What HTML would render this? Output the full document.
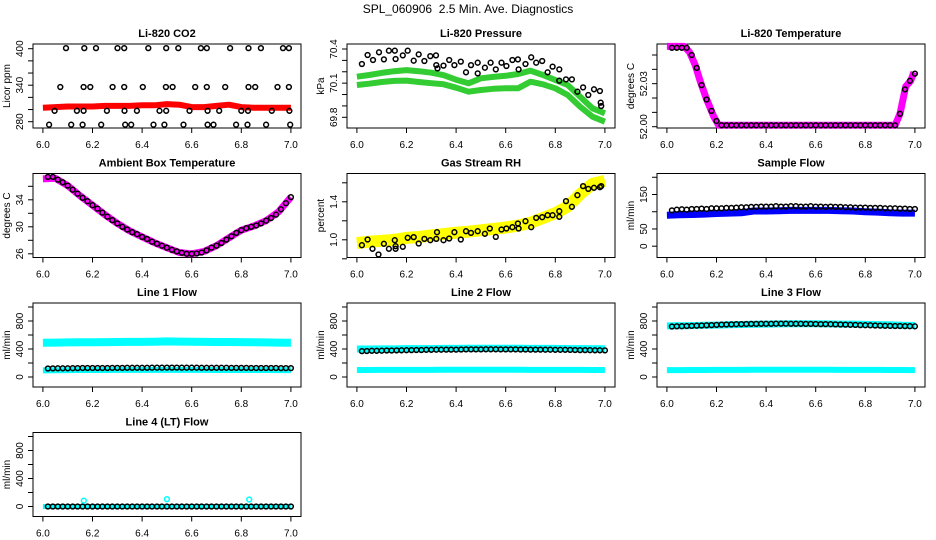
<!DOCTYPE html>
<html><head><meta charset="utf-8"><title>SPL_060906 Diagnostics</title>
<style>
html,body{margin:0;padding:0;background:#fff;}
svg{display:block;font-family:"Liberation Sans",Arial,sans-serif;}
</style></head>
<body>
<svg id="fig" width="936" height="540" viewBox="0 0 936 540">
<rect x="0" y="0" width="936" height="540" fill="#fff"/>
<text x="468" y="13" text-anchor="middle" font-size="12" xml:space="preserve">SPL_060906  2.5 Min. Ave. Diagnostics</text>
</svg>
<script>
// ---- shared time arrays ----
const BT = [6.00,6.05,6.10,6.15,6.20,6.25,6.30,6.35,6.40,6.45,6.50,6.55,6.60,6.65,6.70,6.75,6.80,6.85,6.90,6.95,7.00];
const T = [6.02,6.04,6.06,6.08,6.10,6.12,6.14,6.16,6.18,6.20,6.22,6.24,6.26,6.28,6.30,6.32,6.34,6.36,6.38,6.40,6.42,6.44,6.46,6.48,6.50,6.52,6.54,6.56,6.58,6.60,6.62,6.64,6.66,6.68,6.70,6.72,6.74,6.76,6.78,6.80,6.82,6.84,6.86,6.88,6.90,6.92,6.94,6.96,6.98,7.00];
const xTicks = [6.0,6.2,6.4,6.6,6.8,7.0];
const xTickLabels = ["6.0","6.2","6.4","6.6","6.8","7.0"];

// ---- CO2 ----
const co2Band = [303,304,305,305,305,306,306,306,307,307,309,308,304,304,306,308,304,303,303,303,303];
const co2CircT = [6.093,6.167,6.214,6.301,6.328,6.425,6.497,6.546,6.637,6.661,6.755,6.829,6.879,6.968,6.992,
  6.07,6.164,6.191,6.281,6.328,6.403,6.496,6.523,6.614,6.661,6.735,6.829,6.856,6.946,6.992,
  6.047,6.137,6.164,6.258,6.329,6.379,6.47,6.497,6.591,6.664,6.711,6.8,6.827,6.923,6.994,
  6.025,6.114,6.16,6.235,6.332,6.356,6.446,6.49,6.567,6.664,6.688,6.779,6.825,6.9,6.997];
const co2CircV = [401,401,401,401,401,401,401,401,401,401,401,401,401,401,401,
  337,337,337,337,337,337,337,337,337,337,337,337,337,337,337,
  298,298,298,298,298,298,298,298,298,298,298,298,298,298,298,
  275,275,275,275,275,275,275,275,275,275,275,275,275,275,275];
const co2Ticks = [280,300,320,340,360,380,400];
const co2Labels = [280,340,400];

// ---- Pressure ----
const presUpper = [70.157,70.172,70.19,70.205,70.215,70.205,70.192,70.17,70.13,70.099,70.143,70.155,70.165,70.18,70.209,70.172,70.128,70.084,69.981,69.879,69.835];
const presLower = [70.084,70.095,70.11,70.12,70.122,70.11,70.10,70.09,70.06,70.025,70.04,70.05,70.055,70.055,70.113,70.09,70.055,69.996,69.893,69.805,69.761];
const presCircT = [6.020,6.043,6.065,6.089,6.109,6.129,6.153,6.156,6.185,6.205,6.229,6.249,6.272,6.296,6.319,6.320,6.325,6.349,6.372,6.393,6.419,6.440,6.460,6.487,6.487,6.516,6.539,6.560,6.583,6.603,6.627,6.649,6.652,6.680,6.703,6.723,6.747,6.769,6.789,6.816,6.816,6.843,6.867,6.889,6.912,6.933,6.956,6.980,6.983,6.985];
const presCircV = [70.268,70.347,70.303,70.371,70.309,70.385,70.385,70.312,70.344,70.385,70.297,70.353,70.295,70.338,70.344,70.259,70.230,70.254,70.303,70.259,70.289,70.195,70.259,70.280,70.186,70.236,70.280,70.221,70.280,70.251,70.303,70.309,70.221,70.268,70.327,70.280,70.295,70.195,70.245,70.221,70.122,70.133,70.133,70.025,70.063,69.996,70.046,70.031,69.928,69.899];
const presTicks = [69.8,69.9,70.0,70.1,70.2,70.3,70.4];
const presLabels = [69.8,70.1,70.4];

// ---- Li-820 temperature ----
const tempBandT = [6.0,6.07,6.091,6.114,6.134,6.158,6.189,6.209,6.92,6.94,6.963,6.983,6.996];
const tempBandV = [52.056,52.056,52.052,52.043,52.032,52.020,52.007,52.001,52.001,52.009,52.028,52.032,52.038];
const tempCirc = [52.055,52.055,52.055,52.055,52.050,52.041,52.029,52.019,52.011,52.004,
  52.001,52.001,52.001,52.001,52.001,52.001,52.001,52.001,52.001,52.001,52.001,52.001,52.001,52.001,52.001,52.001,52.001,52.001,
  52.001,52.001,52.001,52.001,52.001,52.001,52.001,52.001,52.001,52.001,52.001,52.001,52.001,52.001,52.001,52.001,52.001,52.001,
  52.009,52.026,52.032,52.037];
const tempTicks = [52.00,52.01,52.02,52.03,52.04,52.05];
const tempLabels = ["52.00","52.03"];

// ---- Ambient box temperature ----
const ambBand = [37.1,37.2,36.1,34.6,33.2,31.8,30.5,29.4,28.5,27.65,26.9,26.2,26.0,26.35,27.2,28.35,29.5,30.1,30.9,32.2,34.4];
const ambCirc = [37.4,37.4,37.0,36.6,36.1,35.5,34.9,34.3,33.8,33.2,32.7,32.1,31.5,31.0,30.5,30.0,29.6,29.2,28.9,28.5,28.2,27.8,27.5,27.2,26.9,26.6,26.35,26.15,26.0,26.0,26.05,26.2,26.5,26.9,27.2,27.6,28.1,28.6,29.1,29.5,29.8,30.0,30.2,30.5,30.9,31.3,31.8,32.6,33.5,34.4];
const ambTicks = [26,28,30,32,34,36];
const ambLabels = [26,30,34];

// ---- Gas stream RH ----
const rhBand = [0.965,0.98,0.99,1.0,1.02,1.03,1.045,1.06,1.075,1.085,1.10,1.115,1.13,1.15,1.18,1.23,1.28,1.35,1.48,1.59,1.62];
const rhCircT = [6.020,6.043,6.063,6.087,6.109,6.129,6.153,6.156,6.156,6.185,6.205,6.229,6.249,6.272,6.296,6.320,6.323,6.349,6.372,6.393,6.419,6.440,6.46,6.487,6.516,6.536,6.56,6.583,6.603,6.627,6.649,6.652,6.68,6.703,6.723,6.747,6.769,6.789,6.816,6.816,6.843,6.867,6.889,6.912,6.933,6.956,6.98,6.985];
const rhCircV = [0.943,1.003,0.905,0.845,0.958,0.905,0.996,0.933,0.905,0.926,1.021,1.028,0.961,1.010,0.996,1.010,1.080,0.996,1.014,1.080,1.003,1.091,1.073,1.091,1.063,1.119,1.031,1.108,1.119,1.133,1.172,1.119,1.196,1.133,1.231,1.238,1.259,1.259,1.242,1.301,1.407,1.347,1.470,1.565,1.536,1.547,1.554,1.565];
const rhTicks = [0.8,1.0,1.2,1.4,1.6];
const rhLabels = ["1.0","1.4"];

// ---- Sample flow ----
const sampBand = [90,91,92,93,95,96,97,102,102,103,104,104,104,104,103,102,100,99,97,96,96];
const sampCirc = [104,106,107,106,108,108,109,108,110,110,110,111,111,112,113,113,114,114,115,115,115,116,115,115,116,116,115,115,116,115,115,114,115,114,114,113,113,112,112,112,111,111,111,110,110,110,109,109,108,108];
const sampTicks = [0,50,100,150,200];
const sampLabels = [0,50,150];

// ---- Line flows ----
const flowTicks = [0,200,400,600,800,1000];
const flowLabels = [0,400,800];
const line1Upper = [490,492,494,496,496,498,500,502,502,504,508,506,504,502,500,500,498,496,494,492,490];
const line1Lower = [95,97,98,100,100,100,102,102,102,102,102,102,102,102,100,100,100,100,100,98,98];
const line1Circ = [122,123,124,125,125,126,127,128,128,128,128,129,129,130,130,130,131,131,132,132,132,133,133,133,134,134,134,133,133,133,133,132,132,132,131,131,131,130,130,130,130,129,129,129,128,128,128,127,127,127];
const line2Upper = [400,400,402,402,405,405,405,408,408,410,410,410,410,410,408,408,408,406,405,404,404];
const line2Lower = [100,100,101,101,102,102,102,103,103,103,103,103,103,103,102,102,102,101,101,100,100];
const line2Circ = [370,372,374,375,376,378,378,380,382,383,384,386,386,388,388,390,390,391,392,392,393,394,394,395,395,396,396,396,395,395,394,394,393,393,392,392,391,390,390,389,388,388,387,386,385,384,383,382,381,380];
const line3Upper = [730,732,735,738,742,746,750,754,756,758,760,760,760,758,756,755,752,748,744,740,736];
const line3Lower = [98,99,100,100,102,102,102,103,103,103,103,103,103,103,102,102,102,101,100,100,99];
const line3Circ = [722,724,726,728,730,733,736,739,742,745,748,750,752,754,756,757,758,759,760,760,760,761,761,761,760,760,760,759,758,757,756,755,754,752,750,748,746,744,742,740,738,736,734,732,730,729,728,727,726,725];
const line4Band = [0,0,0,0,0,0,0,0,0,0,0,0,0,0,0,0,0,0,0,0,0];
const line4Circ = [0,0,0,0,0,0,0,0,0,0,0,0,0,0,0,0,0,0,0,0,0,0,0,0,0,0,0,0,0,0,0,0,0,0,0,0,0,0,0,0,0,0,0,0,0,0,0,0,0,0];
const line4OutT = [6.165,6.5,6.832];
const line4OutV = [85,105,100];

// ---- layout ----
const NS = "http://www.w3.org/2000/svg";
const svg = document.getElementById('fig');
const colLeft = [33,347,657], boxW = 268, boxH = 84;
const rowTop = [44,173.5,303,432.5];

function el(tag, parent) { const e = document.createElementNS(NS, tag); parent.appendChild(e); return e; }

function makePanel(key, col, row, title, ylab, yref, ticks, labels) {
  const L = colLeft[col], Tp = rowTop[row];
  const g = el('g', svg);
  
  
  const sx = t => L + 9.9 + (t - 6) * 248;
  const sy = v => Tp + yref[1] + (v - yref[0]) * (yref[3] - yref[1]) / (yref[2] - yref[0]);
  const box = el('rect', g);
  box.setAttribute('x', L); box.setAttribute('y', Tp); box.setAttribute('width', boxW); box.setAttribute('height', boxH);
  box.setAttribute('fill', 'none'); box.setAttribute('stroke', '#000'); box.setAttribute('stroke-width', '1');
  
  
  const tt = el('text', g);
  tt.setAttribute('x', L + boxW / 2); tt.setAttribute('y', Tp - 7);
  tt.setAttribute('text-anchor', 'middle'); tt.setAttribute('font-size', '11'); tt.setAttribute('font-weight', 'bold');
  tt.textContent = title;
  
  
  xTicks.forEach((t, i) => {
    const ln = el('line', g);
    ln.setAttribute('x1', sx(t)); ln.setAttribute('x2', sx(t)); ln.setAttribute('y1', Tp + boxH); ln.setAttribute('y2', Tp + boxH + 5);
    ln.setAttribute('stroke', '#000');
    
    
    const tx = el('text', g);
    tx.setAttribute('x', sx(t)); tx.setAttribute('y', Tp + boxH + 20);
    tx.setAttribute('text-anchor', 'middle'); tx.setAttribute('font-size', '10');
    tx.textContent = xTickLabels[i];
    
    
  });
  ticks.forEach(v => {
    const ln = el('line', g);
    ln.setAttribute('x1', L - 5); ln.setAttribute('x2', L); ln.setAttribute('y1', sy(v)); ln.setAttribute('y2', sy(v));
    ln.setAttribute('stroke', '#000');
    
    
  });
  labels.forEach(v => {
    const tx = el('text', g);
    const y = sy(parseFloat(v));
    tx.setAttribute('x', L - 10); tx.setAttribute('y', y);
    tx.setAttribute('text-anchor', 'middle'); tx.setAttribute('font-size', '10');
    tx.setAttribute('transform', 'rotate(-90 ' + (L - 10) + ' ' + y + ')');
    tx.textContent = String(v);
    
    
  });
  const yl = el('text', g);
  yl.setAttribute('x', L - 23); yl.setAttribute('y', Tp + boxH / 2);
  yl.setAttribute('text-anchor', 'middle'); yl.setAttribute('font-size', '10');
  yl.setAttribute('transform', 'rotate(-90 ' + (L - 23) + ' ' + (Tp + boxH / 2) + ')');
  yl.textContent = ylab;
  
  
  return { g, sx, sy, key };
}

function band(p, xs, vs, color, w, name) {
  const pl = el('polyline', p.g);
  pl.setAttribute('points', xs.map((t, i) => p.sx(t).toFixed(1) + ',' + p.sy(vs[i]).toFixed(1)).join(' '));
  pl.setAttribute('fill', 'none'); pl.setAttribute('stroke', color); pl.setAttribute('stroke-width', w);
  pl.setAttribute('stroke-linejoin', 'round');
  
  
}
function circles(p, xs, vs, color, name) {
  xs.forEach((t, i) => {
    const c = el('circle', p.g);
    c.setAttribute('cx', p.sx(t).toFixed(1)); c.setAttribute('cy', p.sy(vs[i]).toFixed(1)); c.setAttribute('r', '2.4');
    c.setAttribute('fill', 'none'); c.setAttribute('stroke', color); c.setAttribute('stroke-width', '1.5');
    
    
  });
}

let p = makePanel('co2', 0, 0, 'Li-820 CO2', 'Licor ppm', [400, 4.7, 280, 77.7], co2Ticks, co2Labels);
band(p, BT, co2Band, '#ff0000', 6, 'co2-series-band');
circles(p, co2CircT, co2CircV, '#000', 'co2-point');
p = makePanel('pressure', 1, 0, 'Li-820 Pressure', 'kPa', [70.4, 5, 69.8, 73.3], presTicks, presLabels);
band(p, BT, presUpper, '#33cc33', 6, 'pressure-upper-band');
band(p, BT, presLower, '#33cc33', 6, 'pressure-lower-band');
circles(p, presCircT, presCircV, '#000', 'pressure-point');
p = makePanel('li820-temp', 2, 0, 'Li-820 Temperature', 'degrees C', [52.05, 11, 52.00, 82.7], tempTicks, tempLabels);
band(p, tempBandT, tempBandV, '#ff00ff', 7, 'li820-temp-band');
circles(p, T, tempCirc, '#000', 'li820-temp-point');
p = makePanel('ambient-temp', 0, 1, 'Ambient Box Temperature', 'degrees C', [34, 26.3, 26, 80.3], ambTicks, ambLabels);
band(p, BT, ambBand, '#ff00ff', 7, 'ambient-temp-band');
circles(p, T, ambCirc, '#000', 'ambient-temp-point');
p = makePanel('gas-rh', 1, 1, 'Gas Stream RH', 'percent', [1.4, 28.3, 1.0, 66.3], rhTicks, rhLabels);
band(p, BT, rhBand, '#ffff00', 12, 'gas-rh-band');
circles(p, rhCircT, rhCircV, '#000', 'gas-rh-point');
p = makePanel('sample-flow', 2, 1, 'Sample Flow', 'ml/min', [150, 21, 0, 72.7], sampTicks, sampLabels);
band(p, BT, sampBand, '#0000ff', 7, 'sample-flow-band');
circles(p, T, sampCirc, '#000', 'sample-flow-point');
p = makePanel('line1-flow', 0, 2, 'Line 1 Flow', 'ml/min', [800, 18, 0, 74], flowTicks, flowLabels);
band(p, BT, line1Upper, '#00ffff', 8, 'line1-upper-band');
band(p, BT, line1Lower, '#00ffff', 6, 'line1-lower-band');
circles(p, T, line1Circ, '#000', 'line1-point');
p = makePanel('line2-flow', 1, 2, 'Line 2 Flow', 'ml/min', [800, 18, 0, 74], flowTicks, flowLabels);
band(p, BT, line2Upper, '#00ffff', 7, 'line2-upper-band');
band(p, BT, line2Lower, '#00ffff', 6, 'line2-lower-band');
circles(p, T, line2Circ, '#000', 'line2-point');
p = makePanel('line3-flow', 2, 2, 'Line 3 Flow', 'ml/min', [800, 18, 0, 74], flowTicks, flowLabels);
band(p, BT, line3Upper, '#00ffff', 7, 'line3-upper-band');
band(p, BT, line3Lower, '#00ffff', 6, 'line3-lower-band');
circles(p, T, line3Circ, '#000', 'line3-point');
p = makePanel('line4-flow', 0, 3, 'Line 4 (LT) Flow', 'ml/min', [800, 18, 0, 74], flowTicks, flowLabels);
band(p, BT, line4Band, '#00ffff', 5, 'line4-band');
circles(p, T, line4Circ, '#000', 'line4-point');
circles(p, line4OutT, line4OutV, '#00ffff', 'line4-outlier-point');
</script>
</body></html>
